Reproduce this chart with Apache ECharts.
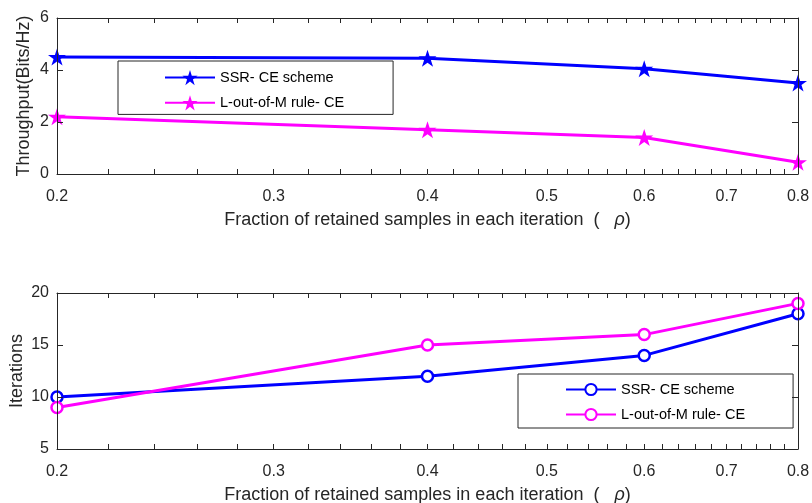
<!DOCTYPE html>
<html>
<head>
<meta charset="utf-8">
<script src="https://cdn.jsdelivr.net/npm/echarts@6/dist/echarts.min.js"></script>
<style>
html,body{margin:0;padding:0;background:#fff;}
#chart{width:812px;height:503px;}
</style>
</head>
<body>
<div id="chart"></div>
<script>
// ---- data ----
const rho = [0.2, 0.4, 0.6, 0.8];
const throughputSSR = [4.5, 4.45, 4.05, 3.5];
const throughputLM = [2.2, 1.7, 1.4, 0.45];
const iterationsSSR = [10, 12, 14, 18];
const iterationsLM = [9, 15, 16, 19];
const xTickLabels = [0.2, 0.3, 0.4, 0.5, 0.6, 0.7, 0.8];
const seriesNames = ['SSR- CE scheme', 'L-out-of-M rule- CE'];

const xMinorTicks = [];
for (let k = 10; k <= 40; k++) xMinorTicks.push(Math.round(k * 2) / 100);

const pairs = (ys) => rho.map((x, i) => [x, ys[i]]);

const FONT = '"Liberation Sans", Arial, Helvetica, sans-serif';
const AX = '#262626';
const BLUE = '#0000ff';
const MAG = '#ff00ff';
const STAR = 'path://M50,0 L61.2,34.5 L97.6,34.5 L68.2,55.9 L79.4,90.5 L50,69.1 L20.6,90.5 L31.8,55.9 L2.4,34.5 L38.8,34.5 Z';

const xName = 'Fraction of retained samples in each iteration  (   {i|ρ})';

function xAxisMain(gridIndex) {
  return {
    type: 'log', logBase: 10, gridIndex, min: 0.2, max: 0.8, position: 'bottom', show: true, z: 10,
    name: xName, nameLocation: 'middle', nameGap: 37, nameMoveOverlap: false,
    nameTextStyle: {fontFamily: FONT, fontSize: 18, color: AX,
      rich: {i: {fontFamily: FONT, fontSize: 18, fontStyle: 'italic', color: AX}}},
    axisLine: {show: true, onZero: false, lineStyle: {color: AX, width: 1}},
    axisTick: {show: true, inside: true, length: 5, lineStyle: {color: AX}, customValues: xMinorTicks},
    minorTick: {show: false},
    axisLabel: {show: true, margin: 15, fontFamily: FONT, fontSize: 16, color: AX,
      customValues: xTickLabels, formatter: (v) => (+v).toFixed(1)},
    splitLine: {show: false}
  };
}
function xAxisTop(gridIndex) {
  return {
    type: 'log', logBase: 10, gridIndex, min: 0.2, max: 0.8, position: 'top', show: true, z: 10,
    axisLine: {show: true, onZero: false, lineStyle: {color: AX, width: 1}},
    axisTick: {show: true, inside: true, length: 5, lineStyle: {color: AX}, customValues: xMinorTicks},
    axisLabel: {show: false},
    splitLine: {show: false}
  };
}
function yAxis(gridIndex, min, max, interval, name, nameGap, right) {
  return {
    type: 'value', gridIndex, min, max, interval, position: right ? 'right' : 'left', show: true, z: 10,
    name: right ? '' : name, nameLocation: 'middle', nameGap, nameMoveOverlap: false,
    nameTextStyle: {fontFamily: FONT, fontSize: 18, color: AX},
    axisLine: {show: true, onZero: false, lineStyle: {color: AX, width: 1}},
    axisTick: {show: true, inside: true, length: 6, lineStyle: {color: AX}},
    axisLabel: {show: !right, margin: 8, fontFamily: FONT, fontSize: 16, color: AX},
    splitLine: {show: false}
  };
}

const chart = echarts.init(document.getElementById('chart'), null, {renderer: 'canvas'});
chart.setOption({
  backgroundColor: '#fff',
  animation: false,
  textStyle: {fontFamily: FONT},
  grid: [
    {left: 57, right: 14, top: 18, height: 156, outerBoundsMode: 'none', containLabel: false},
    {left: 57, right: 14, top: 293, height: 156, outerBoundsMode: 'none', containLabel: false}
  ],
  xAxis: [xAxisMain(0), xAxisTop(0), xAxisMain(1), xAxisTop(1)],
  yAxis: [
    yAxis(0, 0, 6, 2, 'Throughput(Bits/Hz)', 24, false),
    yAxis(0, 0, 6, 2, '', 0, true),
    yAxis(1, 5, 20, 5, 'Iterations', 31, false),
    yAxis(1, 5, 20, 5, '', 0, true)
  ],
  legend: [
    {
      data: seriesNames.map(n => n), orient: 'vertical',
      left: 118, top: 61,
      padding: [9, 49, 4, 46], itemGap: 10, itemWidth: 50, itemHeight: 19,
      backgroundColor: '#fff', borderColor: AX, borderWidth: 1,
      textStyle: {fontFamily: FONT, fontSize: 14.5, color: '#000'},
      selectedMode: false,
      id: 'top'
    },
    {
      data: seriesNames.map(n => n + ' '), orient: 'vertical',
      left: 518, top: 374,
      padding: [8, 48, 6, 47], itemGap: 10, itemWidth: 50, itemHeight: 14,
      backgroundColor: '#fff', borderColor: AX, borderWidth: 1,
      textStyle: {fontFamily: FONT, fontSize: 14.5, color: '#000'},
      selectedMode: false,
      formatter: (n) => n.trim(),
      id: 'bottom'
    }
  ],
  series: [
    {
      name: seriesNames[0], type: 'line', xAxisIndex: 0, yAxisIndex: 0,
      data: pairs(throughputSSR), symbol: STAR, symbolSize: [18, 17],
      lineStyle: {color: BLUE, width: 3}, itemStyle: {color: BLUE}, z: 3
    },
    {
      name: seriesNames[1], type: 'line', xAxisIndex: 0, yAxisIndex: 0,
      data: pairs(throughputLM), symbol: STAR, symbolSize: [18, 17],
      lineStyle: {color: MAG, width: 3}, itemStyle: {color: MAG}, z: 3
    },
    {
      name: seriesNames[0] + ' ', type: 'line', xAxisIndex: 2, yAxisIndex: 2,
      data: pairs(iterationsSSR), symbol: 'circle', symbolSize: 11,
      lineStyle: {color: BLUE, width: 3},
      itemStyle: {color: '#fff', borderColor: BLUE, borderWidth: 2.5}, z: 3
    },
    {
      name: seriesNames[1] + ' ', type: 'line', xAxisIndex: 2, yAxisIndex: 2,
      data: pairs(iterationsLM), symbol: 'circle', symbolSize: 11,
      lineStyle: {color: MAG, width: 3},
      itemStyle: {color: '#fff', borderColor: MAG, borderWidth: 2.5}, z: 3
    }
  ]
});
</script>
</body>
</html>
